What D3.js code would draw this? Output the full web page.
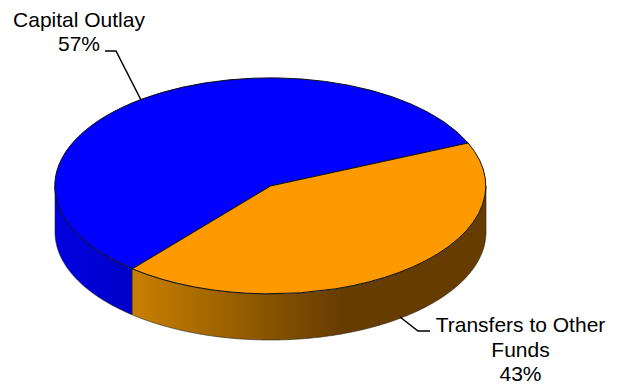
<!DOCTYPE html>
<html><head><meta charset="utf-8">
<script src="https://cdn.jsdelivr.net/npm/d3@7"></script>
<style>html,body{margin:0;background:#fff}svg{display:block}</style></head>
<body><svg id="c" width="621" height="385"></svg>
<script>
const categories = ["Capital Outlay", "Transfers to Other Funds"];
const values = [57.4, 42.6];
const colors = ["#0000ff", "#ff9900"];
const labelLines = [["Capital Outlay"], ["Transfers to Other", "Funds"]];

const svg = d3.select("#c");
const cx = 270.5, cy = 186, rx = 215.5, ry = 108, depth = 46;
const deg = Math.PI / 180;
const px = a => cx + rx * Math.sin(a), py = a => cy - ry * Math.cos(a);

const pie = d3.pie().sort(null).startAngle(219.9 * deg).endAngle(579.9 * deg);
const arcs = pie(values);

const defs = svg.append("defs");
const gradStops = [
  [["#0000e0", 0], ["#0000c8", 1]],
  [["#c88000", 0], ["#663c00", 0.59], ["#663c00", 1]]
];
const gradX = [[55, 133], [133, 486]];
gradStops.forEach((st, i) => {
  const g = defs.append("linearGradient").attr("id", "g" + i).attr("gradientUnits", "userSpaceOnUse")
    .attr("x1", gradX[i][0]).attr("x2", gradX[i][1]).attr("y1", 0).attr("y2", 0);
  st.forEach(s => g.append("stop").attr("offset", s[1]).attr("stop-color", s[0]));
});

// side walls (front half of the ellipse only)
const wall = d3.area().x(a => px(a)).y0(a => py(a)).y1(a => py(a) + depth);
arcs.forEach((d, i) => {
  const ranges = [[90, 270], [450, 630]]
    .map(r => [Math.max(d.startAngle, r[0] * deg), Math.min(d.endAngle, r[1] * deg)])
    .filter(r => r[1] > r[0]);
  ranges.forEach(r => {
    const pts = d3.range(r[0], r[1], 0.01).concat(r[1]);
    svg.append("path").attr("d", wall(pts)).attr("fill", "url(#g" + i + ")")
      .attr("stroke", "#222").attr("stroke-width", 0.6);
  });
});

// top faces
const arc = d3.arc().innerRadius(0).outerRadius(1);
svg.append("g").attr("transform", `translate(${cx},${cy}) scale(${rx},${ry})`)
  .selectAll("path").data(arcs).join("path")
  .attr("d", arc).attr("fill", (d, i) => colors[i])
  .attr("stroke", "#111").attr("stroke-width", 1).attr("vector-effect", "non-scaling-stroke");

// leader lines
const line = d3.line();
svg.append("path").attr("d", line([[105, 51], [116, 51], [141, 100]])).attr("fill", "none").attr("stroke", "#000").attr("stroke-width", 1.5);
svg.append("path").attr("d", line([[400, 317], [418, 331], [430, 331]])).attr("fill", "none").attr("stroke", "#000").attr("stroke-width", 1.5);

// labels
const labelPos = [[79, 27, 24], [520.5, 332, 24.5]];
labelLines.forEach((ls, i) => {
  const t = svg.append("text").attr("text-anchor", "middle").attr("font-family", "Liberation Sans, Arial, sans-serif")
    .attr("font-size", 21).attr("fill", "#000");
  ls.concat(Math.round(values[i]) + "%").forEach((l, j) =>
    t.append("tspan").attr("x", labelPos[i][0]).attr("y", labelPos[i][1] + j * labelPos[i][2]).text(l));
});
</script></body></html>
